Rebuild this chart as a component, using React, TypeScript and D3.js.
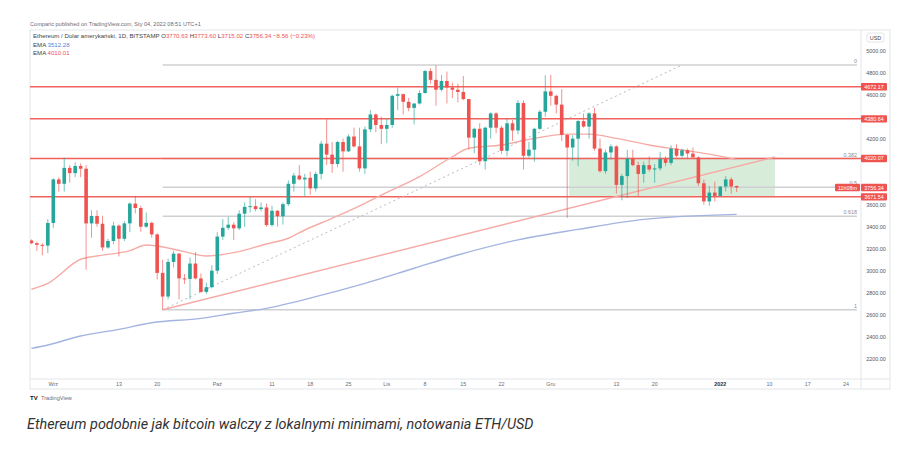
import React from "react";
import * as d3 from "d3";

// daily candles, 2021-08-28 .. 2022-01-04
const firstDay = Date.UTC(2021, 7, 28);

const opens = [
  3275, 3250, 3235, 3228,
  3434, 3830, 3790, 3935, 3887, 3952, 3927, 3430, 3498, 3427, 3211, 3270, 3410, 3290, 3430, 3610, 3570, 3400, 3435, 3330, 2980, 2765, 3080, 3155, 2930, 2925, 3065, 2930, 2807, 2850,
  3000, 3310, 3390, 3418, 3385, 3518, 3580, 3587, 3560, 3575, 3415, 3545, 3495, 3605, 3790, 3865, 3830, 3845, 3748, 3880, 4155, 4055, 3970, 4170, 4085, 4220, 4130, 3930, 4285, 4420, 4325,
  4290, 4325, 4590, 4605, 4535, 4480, 4520, 4615, 4815, 4735, 4645, 4725, 4665, 4645, 4625, 4560, 4210, 4290, 3995, 4300, 4430, 4300, 4090, 4340, 4275, 4525, 4045, 4100, 4290, 4445,
  4630, 4590, 4510, 4235, 4120, 4200, 4360, 4310, 4430, 4110, 3905, 4075, 4130, 3780, 3860, 4020, 3960, 3880, 3960, 3920, 3930, 4015, 3980, 4110, 4045, 4095, 4065, 4030, 3795, 3630, 3710,
  3680, 3765, 3830, 3770,
];
const highs = [
  3285, 3265, 3250, 3470,
  3840, 3850, 4027, 3960, 3985, 3975, 3960, 3550, 3550, 3500, 3290, 3445, 3420, 3450, 3620, 3680, 3590, 3530, 3445, 3340, 3100, 3110, 3180, 3160, 2970, 3120, 3170, 2975, 2890, 3050,
  3350, 3470, 3490, 3440, 3550, 3620, 3670, 3650, 3620, 3610, 3590, 3550, 3620, 3820, 3890, 3960, 3880, 3900, 3900, 4180, 4377, 4170, 4180, 4200, 4240, 4300, 4300, 4310, 4460, 4430, 4400,
  4380, 4600, 4665, 4610, 4570, 4520, 4640, 4825, 4840, 4868, 4780, 4810, 4710, 4700, 4770, 4560, 4300, 4340, 4310, 4440, 4440, 4320, 4380, 4370, 4550, 4550, 4170, 4300, 4460, 4777,
  4780, 4600, 4650, 4240, 4230, 4370, 4430, 4440, 4480, 4200, 4100, 4150, 4140, 3880, 4100, 4100, 3990, 3990, 4040, 3970, 4080, 4040, 4140, 4150, 4110, 4110, 4120, 4040, 3830, 3770, 3810,
  3770, 3860, 3850, 3774,
];
const lows = [
  3240, 3180, 3140, 3160,
  3390, 3720, 3720, 3800, 3850, 3850, 3010, 3300, 3400, 3180, 3200, 3240, 3130, 3270, 3350, 3520, 3355, 3390, 3300, 2920, 2645, 2740, 3030, 2740, 2880, 2740, 2920, 2800, 2790, 2840,
  2970, 3280, 3370, 3280, 3370, 3400, 3530, 3540, 3540, 3400, 3400, 3400, 3420, 3590, 3720, 3820, 3680, 3690, 3720, 3830, 3960, 3890, 3940, 3900, 4080, 4120, 3900, 3880, 4260, 4260, 4150,
  4160, 4300, 4460, 4420, 4450, 4330, 4510, 4610, 4700, 4500, 4630, 4520, 4570, 4530, 4550, 4100, 4070, 3960, 3920, 4200, 4250, 4060, 4040, 4180, 4240, 3920, 4030, 3990, 4280, 4400,
  4500, 4430, 4180, 3480, 4000, 3950, 4300, 4200, 4090, 3890, 3880, 4010, 3700, 3640, 3660, 3950, 3680, 3800, 3900, 3800, 3910, 3950, 3960, 4030, 4030, 4020, 4030, 3770, 3600, 3590, 3630,
  3680, 3720, 3700, 3715,
];
const closes = [
  3250, 3235, 3228, 3434,
  3830, 3790, 3935, 3887, 3952, 3927, 3430, 3498, 3427, 3211, 3270, 3410, 3290, 3430, 3610, 3570, 3400, 3435, 3330, 2980, 2765, 3080, 3155, 2930, 2925, 3065, 2930, 2807, 2850, 3000,
  3310, 3390, 3418, 3385, 3518, 3580, 3587, 3560, 3575, 3415, 3545, 3495, 3605, 3790, 3865, 3830, 3845, 3748, 3880, 4155, 4055, 3970, 4170, 4085, 4220, 4130, 3930, 4285, 4420, 4325, 4290,
  4325, 4590, 4605, 4535, 4480, 4520, 4615, 4815, 4735, 4645, 4725, 4665, 4645, 4625, 4560, 4210, 4290, 3995, 4300, 4430, 4300, 4090, 4340, 4275, 4525, 4045, 4100, 4290, 4445, 4630,
  4590, 4510, 4235, 4120, 4200, 4360, 4310, 4430, 4110, 3905, 4075, 4130, 3780, 3860, 4020, 3960, 3880, 3960, 3920, 3930, 4015, 3980, 4110, 4045, 4095, 4065, 4030, 3795, 3630, 3710, 3680,
  3765, 3830, 3765, 3756,
];

// EMA lines
const emaRedDates = ["2021-08-28", "2021-08-31", "2021-09-06", "2021-09-09", "2021-09-15", "2021-09-18", "2021-09-20", "2021-09-25", "2021-09-29", "2021-10-04", "2021-10-10", "2021-10-14", "2021-10-17", "2021-10-22", "2021-10-28", "2021-10-31", "2021-11-07", "2021-11-13", "2021-11-16", "2021-11-22", "2021-11-28", "2021-12-04", "2021-12-08", "2021-12-13", "2021-12-19", "2021-12-25", "2021-12-31", "2022-01-04"];
const emaRedValues = [2831, 2885, 3104, 3134, 3182, 3234, 3225, 3173, 3134, 3164, 3243, 3295, 3370, 3476, 3612, 3688, 3855, 4036, 4113, 4143, 4203, 4242, 4242, 4203, 4143, 4097, 4051, 4010];
const emaBlueDates = ["2021-08-28", "2021-08-31", "2021-09-06", "2021-09-13", "2021-09-19", "2021-09-28", "2021-10-04", "2021-10-10", "2021-10-19", "2021-10-28", "2021-11-06", "2021-11-14", "2021-11-25", "2021-12-06", "2021-12-18", "2022-01-04"];
const emaBlueValues = [2294, 2325, 2406, 2467, 2527, 2567, 2613, 2658, 2764, 2885, 3022, 3143, 3280, 3376, 3467, 3512];

// horizontal levels and fib retracement
const levels = [4672.17, 4380.64, 4020.07, 3671.54];
const fibLabels = ["0", "0.382", "0.5", "0.618", "1"];
const fibPrices = [4870, 4020, 3758, 3495, 2645];
const lastPrice = 3756.34;

const timeTickDates = ["2021-09-01", "2021-09-13", "2021-09-20", "2021-10-01", "2021-10-11", "2021-10-18", "2021-10-25", "2021-11-01", "2021-11-08", "2021-11-15", "2021-11-22", "2021-12-01", "2021-12-13", "2021-12-20", "2022-01-01", "2022-01-10", "2022-01-17", "2022-01-24"];
const timeTickLabels = ["Wrz", "13", "20", "Paź", "11", "18", "25", "Lis", "8", "15", "22", "Gru", "13", "20", "2022", "10", "17", "24"];

const day = (s: string) => new Date(s + "T00:00:00Z");

const UP = "#26a69a";
const DOWN = "#ef5350";
const LEVEL = "#f2625c";
const FONT = "'Liberation Sans', Arial, sans-serif";

function Chart() {
  const width = 914;
  const height = 459;
  const left = 30;
  const right = 861;
  const top = 30;
  const bottom = 379;

  const x = d3
    .scaleUtc()
    .domain([day("2021-09-01"), day("2022-01-24")])
    .range([53.3, 846]);
  const y = d3.scaleLinear().domain([2200, 5000]).range([358.7, 50.7]);

  const candles = closes.map((c, i) => ({
    date: new Date(firstDay + i * 86400000),
    o: opens[i],
    h: highs[i],
    l: lows[i],
    c,
  }));

  const line = d3
    .line<[Date, number]>()
    .x((d) => x(d[0]))
    .y((d) => y(d[1]))
    .curve(d3.curveMonotoneX);

  const redEma = line(emaRedDates.map((d, i) => [day(d), emaRedValues[i]]));
  const blueEma = line(emaBlueDates.map((d, i) => [day(d), emaBlueValues[i]]));

  const lowPt = [day("2021-09-21"), 2645] as const;
  const fibEnd = [day("2021-12-25"), 4870] as const;
  const trendEnd = [day("2022-01-11"), 4034] as const;

  const axisLabels = [
    ...levels.map((v) => ({ v, text: d3.format(".2f")(v) })),
    { v: lastPrice, text: d3.format(".2f")(lastPrice) },
  ];
  const priceTicks = y
    .ticks(14)
    .filter((t) => axisLabels.every((l) => Math.abs(y(t) - y(l.v)) > 6));

  return (
    <svg
      width={width}
      height={height}
      style={{ position: "absolute", left: 0, top: 0, background: "#fff" }}
      fontFamily={FONT}
    >
      <defs>
        <clipPath id="plot">
          <rect x={left} y={top} width={right - left} height={bottom - top} />
        </clipPath>
      </defs>

      <text x={30} y={26} fontSize={5.6} fill="#6a6d78">
        Comparic published on TradingView.com, Sty 04, 2022 08:51 UTC+1
      </text>

      {/* frame */}
      <rect x={left} y={top} width={890 - left} height={389 - top} fill="none" stroke="#e3e5ea" />
      <line x1={right} y1={top} x2={right} y2={389} stroke="#e3e5ea" />
      <line x1={left} y1={bottom} x2={890} y2={bottom} stroke="#e3e5ea" />

      <g clipPath="url(#plot)">
        {/* zone */}
        <rect
          x={x(day("2021-12-04")) + 2}
          y={y(4020.07)}
          width={x(day("2022-01-11")) - x(day("2021-12-04")) - 2}
          height={y(3671.54) - y(4020.07)}
          fill="#4caf50"
          fillOpacity={0.22}
        />

        {/* fib lines */}
        {fibPrices.map((p, i) => (
          <g key={i}>
            <line
              x1={x(lowPt[0])}
              x2={x(day("2022-01-26"))}
              y1={y(p)}
              y2={y(p)}
              stroke="#cfd0d3"
              strokeWidth={1.4}
            />
            <text x={857} y={y(p) - 2} fontSize={5.4} fill="#8a8d96" textAnchor="end">
              {fibLabels[i]}
            </text>
          </g>
        ))}

        {/* levels */}
        {levels.map((v, i) => (
          <line key={i} x1={left} x2={right} y1={y(v)} y2={y(v)} stroke={LEVEL} strokeWidth={1.5} />
        ))}

        <path d={blueEma ?? ""} fill="none" stroke="#a3b4e0" strokeWidth={1.4} />
        <path d={redEma ?? ""} fill="none" stroke="#f6aca6" strokeWidth={1.4} />

        <line
          x1={x(lowPt[0])}
          y1={y(lowPt[1])}
          x2={x(fibEnd[0])}
          y2={y(fibEnd[1])}
          stroke="#b9bbc0"
          strokeWidth={1}
          strokeDasharray="2,3"
        />
        <line
          x1={x(lowPt[0])}
          y1={y(lowPt[1])}
          x2={x(trendEnd[0])}
          y2={y(trendEnd[1])}
          stroke="#f5aaa6"
          strokeWidth={1.4}
        />

        {/* candles */}
        {candles.map((d, i) => {
          const cx = x(d.date);
          const col = d.c >= d.o ? UP : DOWN;
          const yTop = y(Math.max(d.o, d.c));
          const bh = Math.max(1, Math.abs(y(d.o) - y(d.c)));
          return (
            <g key={i}>
              <line x1={cx} x2={cx} y1={y(d.h)} y2={y(d.l)} stroke={col} strokeWidth={0.8} opacity={0.8} />
              <rect x={cx - 1.8} y={yTop} width={3.6} height={bh} fill={col} />
            </g>
          );
        })}
      </g>

      {/* legend */}
      <g fontSize={6.1} fill="#3c3f47">
        <text x={33} y={38}>
          Ethereum / Dolar amerykański, 1D, BITSTAMP{"  "}
          <tspan>O</tspan>
          <tspan fill={DOWN}>3770.63 </tspan>
          <tspan>H</tspan>
          <tspan fill={DOWN}>3773.60 </tspan>
          <tspan>L</tspan>
          <tspan fill={DOWN}>3715.02 </tspan>
          <tspan>C</tspan>
          <tspan fill={DOWN}>3756.34 −8.56 (−0.23%)</tspan>
        </text>
        <text x={33} y={46.5}>
          EMA <tspan fill="#5b7fd6">3512.28</tspan>
        </text>
        <text x={33} y={55}>
          EMA <tspan fill={DOWN}>4010.01</tspan>
        </text>
      </g>

      {/* price axis */}
      <rect x={867} y={33} width={17} height={9} rx={2} fill="#fff" stroke="#e3e5ea" />
      <text x={875.5} y={39.7} fontSize={5.4} fill="#3c3f47" textAnchor="middle">
        USD
      </text>
      {priceTicks.map((t) => (
        <text key={t} x={876} y={y(t) + 2} fontSize={5.4} fill="#50535e" textAnchor="middle">
          {d3.format(".2f")(t)}
        </text>
      ))}
      {axisLabels.map((l, i) => (
        <g key={i}>
          <rect x={861} y={y(l.v) - 3.7} width={26} height={7.4} fill={DOWN} rx={1} />
          <text x={874} y={y(l.v) + 2} fontSize={5.4} fill="#fff" textAnchor="middle">
            {l.text}
          </text>
        </g>
      ))}
      <rect x={835} y={y(lastPrice) - 3.7} width={25} height={7.4} fill={DOWN} rx={1} />
      <text x={847.5} y={y(lastPrice) + 2} fontSize={5.4} fill="#fff" textAnchor="middle">
        11h08m
      </text>

      {/* time axis */}
      {timeTickDates.map((d, i) => (
        <text
          key={d}
          x={x(day(d))}
          y={386}
          fontSize={5.4}
          fill={timeTickLabels[i] === "2022" ? "#2a2e39" : "#6a6d78"}
          fontWeight={timeTickLabels[i] === "2022" ? "bold" : "normal"}
          textAnchor="middle"
        >
          {timeTickLabels[i]}
        </text>
      ))}

      <text x={30} y={400} fontSize={6} fontWeight="bold" fill="#131722">
        TV
      </text>
      <text x={41} y={400} fontSize={5.6} fill="#6a6d78">
        TradingView
      </text>

      <text
        x={27}
        y={429}
        fontSize={14.4}
        fontStyle="italic"
        fill="#333"
        fontFamily="Roboto, 'Open Sans', sans-serif"
      >
        Ethereum podobnie jak bitcoin walczy z lokalnymi minimami, notowania ETH/USD
      </text>
    </svg>
  );
}

export default function App() {
  return <Chart />;
}
